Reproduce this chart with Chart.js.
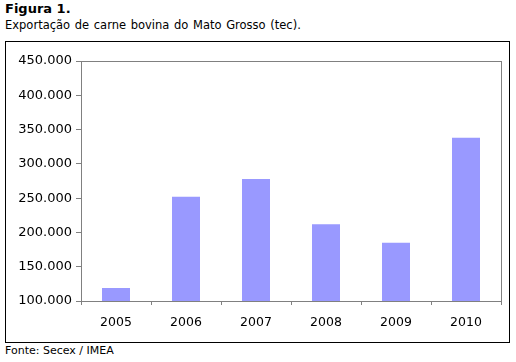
<!DOCTYPE html>
<html>
<head>
<meta charset="utf-8">
<script src="https://cdn.jsdelivr.net/npm/chart.js@4"></script>
<style>
  body { margin: 0; background: #fff; }
  #wrap { position: relative; width: 516px; height: 362px; }
  .txt { position: absolute; left: 5px; font-family: "DejaVu Sans", sans-serif; color: #000; white-space: nowrap; }
  #fig { top: 1px; font-size: 13px; font-weight: bold; }
  #sub { top: 18px; font-size: 11.5px; word-spacing: 1px; }
  #src { top: 344px; font-size: 11px; }
  #frame { position: absolute; left: 5px; top: 41px; width: 503px; height: 300px; border: 1px solid #000; }
  canvas { position: absolute; left: 0; top: 0; }
</style>
</head>
<body>
<div id="wrap">
  <div class="txt" id="fig">Figura 1.</div>
  <div class="txt" id="sub">Exportação de carne bovina do Mato Grosso (tec).</div>
  <div id="frame"></div>
  <div class="txt" id="src">Fonte: Secex / IMEA</div>
  <canvas id="chart" width="516" height="362"></canvas>
</div>
<script>
// data
const years = ['2005', '2006', '2007', '2008', '2009', '2010'];
const exports = [119000, 252000, 278000, 212000, 185000, 338000];
const yTicks = [100000, 150000, 200000, 250000, 300000, 350000, 400000, 450000];

// draws the grey box around the plot area (top and right sides)
const plotBorder = {
    id: 'plotBorder',
    afterDraw(chart) {
        const a = chart.chartArea;
        const ctx = chart.ctx;
        ctx.save();
        ctx.strokeStyle = '#808080';
        ctx.lineWidth = 1;
        ctx.strokeRect(a.left + 0.5, a.top + 0.5, a.right - a.left, a.bottom - a.top);
        ctx.restore();
    }
};

const ctx = document.getElementById('chart').getContext('2d');
new Chart(ctx, {
    type: 'bar',
    data: {
        labels: years,
        datasets: [{
            data: exports,
            backgroundColor: '#9999ff',
            barPercentage: 0.4,
            categoryPercentage: 1
        }]
    },
    options: {
        responsive: false,
        animation: false,
        layout: { padding: { top: 61, right: 15, left: 0, bottom: 0 } },
        plugins: { legend: { display: false }, tooltip: { enabled: false } },
        scales: {
            x: {
                afterFit: s => { s.height = 61; },
                border: { color: '#808080' },
                grid: { drawOnChartArea: false, color: '#808080', tickLength: 4, offset: true },
                ticks: { color: '#000', font: { family: 'DejaVu Sans', size: 12.5 }, padding: 10 }
            },
            y: {
                min: 100000,
                max: 450000,
                afterFit: s => { s.width = 81; },
                afterBuildTicks: s => { s.ticks = yTicks.map(v => ({ value: v })); },
                border: { color: '#808080' },
                grid: { drawOnChartArea: false, color: '#808080', tickLength: 5 },
                ticks: {
                    color: '#000',
                    font: { family: 'DejaVu Sans', size: 13 },
                    padding: 4,
                    callback: v => v.toLocaleString('pt-BR').replace(/,/g, '.')
                }
            }
        }
    },
    plugins: [plotBorder]
});
</script>
</body>
</html>
